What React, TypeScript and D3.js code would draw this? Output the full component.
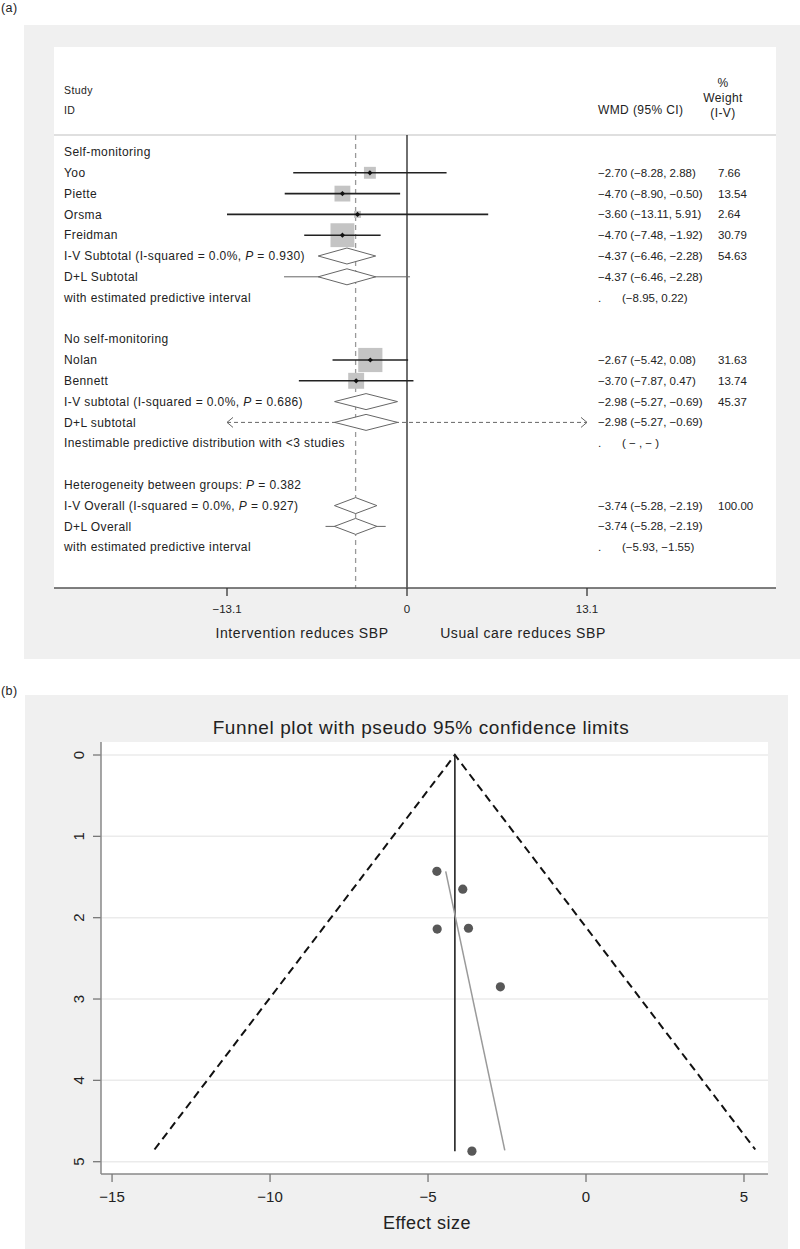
import React from "react";
import * as d3 from "d3";

// ---------- Panel (a) data ----------
const studyNames = ["Yoo", "Piette", "Orsma", "Freidman", "Nolan", "Bennett"];
const studyRows = [1, 2, 3, 4, 10, 11];
const studyES = [-2.7, -4.7, -3.6, -4.7, -2.67, -3.7];
const studyLo = [-8.28, -8.9, -13.11, -7.48, -5.42, -7.87];
const studyHi = [2.88, -0.5, 5.91, -1.92, 0.08, 0.47];
const studyWeight = [7.66, 13.54, 2.64, 30.79, 31.63, 13.74];
const studyCI = [
  "\u22122.70 (\u22128.28, 2.88)",
  "\u22124.70 (\u22128.90, \u22120.50)",
  "\u22123.60 (\u221213.11, 5.91)",
  "\u22124.70 (\u22127.48, \u22121.92)",
  "\u22122.67 (\u22125.42, 0.08)",
  "\u22123.70 (\u22127.87, 0.47)",
];
const studyWeightText = ["7.66", "13.54", "2.64", "30.79", "31.63", "13.74"];

// pooled (diamond) rows
const poolRows = [5, 6, 12, 13, 17, 18];
const poolES = [-4.37, -4.37, -2.98, -2.98, -3.74, -3.74];
const poolLo = [-6.46, -6.46, -5.27, -5.27, -5.28, -5.28];
const poolHi = [-2.28, -2.28, -0.69, -0.69, -2.19, -2.19];
const poolCI = [
  "\u22124.37 (\u22126.46, \u22122.28)",
  "\u22124.37 (\u22126.46, \u22122.28)",
  "\u22122.98 (\u22125.27, \u22120.69)",
  "\u22122.98 (\u22125.27, \u22120.69)",
  "\u22123.74 (\u22125.28, \u22122.19)",
  "\u22123.74 (\u22125.28, \u22122.19)",
];
const poolWeightText = ["54.63", "", "45.37", "", "100.00", ""];
// predictive intervals drawn around D+L diamonds (null = inestimable -> arrows)
const predRows = [6, 13, 18];
const predLo: (number | null)[] = [-8.95, null, -5.93];
const predHi: (number | null)[] = [0.22, null, -1.55];
const predTextRows = [7, 14, 19];
const predText = ["(\u22128.95, 0.22)", "( \u2212 , \u2212 )", "(\u22125.93, \u22121.55)"];

const plainLabels: [number, string][] = [
  [0, "Self-monitoring"],
  [6, "D+L Subtotal"],
  [7, "with estimated predictive interval"],
  [9, "No self-monitoring"],
  [13, "D+L subtotal"],
  [14, "Inestimable predictive distribution with <3 studies"],
  [18, "D+L Overall"],
  [19, "with estimated predictive interval"],
];
const pLabels: [number, string, string][] = [
  [5, "I-V Subtotal  (I-squared = 0.0%, ", " = 0.930)"],
  [12, "I-V subtotal  (I-squared = 0.0%, ", " = 0.686)"],
  [16, "Heterogeneity between groups: ", " = 0.382"],
  [17, "I-V Overall  (I-squared = 0.0%, ", " = 0.927)"],
];
const overallES = -3.74;
const forestTicks = [-13.1, 0, 13.1];

// ---------- Panel (b) data ----------
const funnelES = [-4.72, -3.9, -4.71, -3.72, -2.71, -3.61];
const funnelSE = [1.43, 1.65, 2.14, 2.13, 2.85, 4.87];
const funnelCenter = -4.15;
const funnelMaxSE = 4.85;
const eggerES = [-4.44, -2.57];
const eggerSE = [1.43, 4.86];
const funnelXTicks = [-15, -10, -5, 0, 5];
const funnelYTicks = [0, 1, 2, 3, 4, 5];

const FONT = "'Liberation Sans', Arial, Helvetica, sans-serif";
const TXT = "#222";
const LS = 0.4;
const NUM = 11.5;

export default function App() {
  // forest scales
  const x = d3.scaleLinear().domain([-13.1, 13.1]).range([227, 587]);
  const y = d3.scaleLinear().domain([0, 19]).range([152, 547.2]);
  const textX = 64;
  const ciX = 598;
  const wX = 718;

  // funnel scales
  const fx = d3.scaleLinear().domain([-15.35, 5.76]).range([101, 768]);
  const fy = d3.scaleLinear().domain([0, 5]).range([755, 1161.7]);

  const diamond = (es: number, lo: number, hi: number, yy: number) => {
    const p = d3.path();
    p.moveTo(x(lo), yy);
    p.lineTo(x(es), yy - 8);
    p.lineTo(x(hi), yy);
    p.lineTo(x(es), yy + 8);
    p.closePath();
    return p.toString();
  };

  const funnelLine = d3
    .line<[number, number]>()
    .x((d) => fx(d[0]))
    .y((d) => fy(d[1]));
  const funnelPts: [number, number][] = [
    [funnelCenter - 1.96 * funnelMaxSE, funnelMaxSE],
    [funnelCenter, 0],
    [funnelCenter + 1.96 * funnelMaxSE, funnelMaxSE],
  ];

  const T = (props: any) => (
    <text dy="0.35em" fontSize={12} fill={TXT} letterSpacing={LS} {...props} />
  );
  const N = (props: any) => (
    <text dy="0.35em" fontSize={NUM} fill={TXT} {...props} />
  );

  return (
    <svg
      width={800}
      height={1249}
      style={{ position: "absolute", left: 0, top: 0, background: "#fff" }}
      fontFamily={FONT}
    >
      {/* ================= Panel (a) ================= */}
      <T x={1} y={8} fontSize={12.5}>(a)</T>
      <rect x={24} y={25} width={776} height={634} fill="#f0f0f0" />
      <rect x={54} y={47} width={722} height={541} fill="#fff" />
      <line x1={54} x2={776} y1={135} y2={135} stroke="#d4d4d4" strokeWidth={1.5} />

      {/* headers */}
      <T x={textX} y={90} fontSize={10.5}>Study</T>
      <T x={textX} y={110} fontSize={10.5}>ID</T>
      <T x={ciX} y={110}>WMD (95% CI)</T>
      <T x={723} y={83} textAnchor="middle">%</T>
      <T x={723} y={98} textAnchor="middle">Weight</T>
      <T x={723} y={113} textAnchor="middle">(I-V)</T>

      {/* reference lines */}
      <line x1={x(0)} x2={x(0)} y1={135} y2={588} stroke="#222" strokeWidth={1.3} />
      <line
        x1={x(overallES)}
        x2={x(overallES)}
        y1={135}
        y2={588}
        stroke="#999"
        strokeWidth={1.3}
        strokeDasharray="5,4"
      />

      {/* labels */}
      {plainLabels.map(([r, t]) => (
        <T key={"pl" + r} x={textX} y={y(r)}>{t}</T>
      ))}
      {pLabels.map(([r, a, b]) => (
        <T key={"pp" + r} x={textX} y={y(r)}>
          {a}
          <tspan fontStyle="italic">P</tspan>
          {b}
        </T>
      ))}
      {studyNames.map((n, i) => (
        <T key={"sn" + i} x={textX} y={y(studyRows[i])}>{n}</T>
      ))}

      {/* predictive intervals */}
      {predRows.map((r, i) => {
        const lo = predLo[i];
        const hi = predHi[i];
        if (lo !== null && hi !== null) {
          return (
            <line key={"pr" + i} x1={x(lo)} x2={x(hi)} y1={y(r)} y2={y(r)} stroke="#666" strokeWidth={1} />
          );
        }
        const yy = y(r);
        const l = x.domain()[0];
        const h = x.domain()[1];
        return (
          <g key={"pr" + i} stroke="#666" strokeWidth={1} fill="none">
            <line x1={x(l)} x2={x(h)} y1={yy} y2={yy} strokeDasharray="4,3" />
            <path d={`M${x(l) + 6},${yy - 5} L${x(l)},${yy} L${x(l) + 6},${yy + 5}`} />
            <path d={`M${x(h) - 6},${yy - 5} L${x(h)},${yy} L${x(h) - 6},${yy + 5}`} />
          </g>
        );
      })}

      {/* diamonds */}
      {poolRows.map((r, i) => (
        <path
          key={"dm" + i}
          d={diamond(poolES[i], poolLo[i], poolHi[i], y(r))}
          fill="#fff"
          stroke="#666"
          strokeWidth={1}
        />
      ))}

      {/* study boxes and CIs */}
      {studyNames.map((n, i) => {
        const s = 4.3 * Math.sqrt(studyWeight[i]);
        const cx = x(studyES[i]);
        const cy = y(studyRows[i]);
        return (
          <g key={"st" + i}>
            <rect x={cx - s / 2} y={cy - s / 2} width={s} height={s} fill="#c4c4c4" />
            <line
              x1={x(Math.max(studyLo[i], -13.1))}
              x2={x(studyHi[i])}
              y1={cy}
              y2={cy}
              stroke="#222"
              strokeWidth={1.6}
            />
            <path d={`M${cx - 2.6},${cy} L${cx},${cy - 2.6} L${cx + 2.6},${cy} L${cx},${cy + 2.6} Z`} fill="#111" />
          </g>
        );
      })}

      {/* right columns */}
      {studyCI.map((t, i) => (
        <N key={"sc" + i} x={ciX} y={y(studyRows[i])}>{t}</N>
      ))}
      {studyWeightText.map((t, i) => (
        <N key={"sw" + i} x={wX} y={y(studyRows[i])}>{t}</N>
      ))}
      {poolCI.map((t, i) => (
        <N key={"pc" + i} x={ciX} y={y(poolRows[i])}>{t}</N>
      ))}
      {poolWeightText.map((t, i) => (
        <N key={"pw" + i} x={wX} y={y(poolRows[i])}>{t}</N>
      ))}
      {predTextRows.map((r, i) => (
        <g key={"pt" + i}>
          <N x={ciX} y={y(r)}>.</N>
          <N x={622} y={y(r)}>{predText[i]}</N>
        </g>
      ))}

      {/* axis */}
      <line x1={54} x2={776} y1={588} y2={588} stroke="#555" strokeWidth={1.5} />
      {forestTicks.map((t) => (
        <g key={"ft" + t}>
          <line x1={x(t)} x2={x(t)} y1={588} y2={596} stroke="#333" strokeWidth={1.3} />
          <N x={x(t)} y={609} textAnchor="middle">
            {t < 0 ? "\u2212" + Math.abs(t) : String(t)}
          </N>
        </g>
      ))}
      <T x={302} y={633} fontSize={14} letterSpacing={0.6} textAnchor="middle">Intervention reduces SBP</T>
      <T x={523} y={633} fontSize={14} letterSpacing={0.6} textAnchor="middle">Usual care reduces SBP</T>

      {/* ================= Panel (b) ================= */}
      <T x={1} y={691} fontSize={12.5}>(b)</T>
      <rect x={25} y={695} width={763} height={554} fill="#f0f0f0" />
      <rect x={101} y={742} width={667} height={432} fill="#fff" />
      <T x={421} y={727} fontSize={19} letterSpacing={0.6} textAnchor="middle">
        Funnel plot with pseudo 95% confidence limits
      </T>

      {funnelYTicks.map((t) => (
        <g key={"gy" + t}>
          <line x1={101} x2={768} y1={fy(t)} y2={fy(t)} stroke="#ebebeb" strokeWidth={1.5} />
          <line x1={93} x2={101} y1={fy(t)} y2={fy(t)} stroke="#777" strokeWidth={1.3} />
          <text
            transform={`translate(79,${fy(t)}) rotate(-90)`}
            dy="0.35em"
            fontSize={15}
            fill={TXT}
            textAnchor="middle"
          >
            {t}
          </text>
        </g>
      ))}
      <line x1={101} x2={101} y1={742} y2={1174} stroke="#888" strokeWidth={1.5} />
      <line x1={101} x2={768} y1={1174} y2={1174} stroke="#888" strokeWidth={1.5} />
      {funnelXTicks.map((t) => (
        <g key={"fx" + t}>
          <line x1={fx(t)} x2={fx(t)} y1={1174} y2={1182} stroke="#777" strokeWidth={1.3} />
          <text x={fx(t)} y={1197} dy="0.35em" fontSize={15} fill={TXT} textAnchor="middle">
            {t < 0 ? "\u2212" + Math.abs(t) : String(t)}
          </text>
        </g>
      ))}
      <T x={427} y={1223} fontSize={18} letterSpacing={0.5} textAnchor="middle">Effect size</T>

      {/* funnel */}
      <path d={funnelLine(funnelPts) || ""} fill="none" stroke="#111" strokeWidth={2} strokeDasharray="8,5" />
      <line
        x1={fx(funnelCenter)}
        x2={fx(funnelCenter)}
        y1={fy(0)}
        y2={fy(4.87)}
        stroke="#222"
        strokeWidth={1.6}
      />
      <line
        x1={fx(eggerES[0])}
        x2={fx(eggerES[1])}
        y1={fy(eggerSE[0])}
        y2={fy(eggerSE[1])}
        stroke="#9a9a9a"
        strokeWidth={1.5}
      />
      {funnelES.map((e, i) => (
        <circle key={"fp" + i} cx={fx(e)} cy={fy(funnelSE[i])} r={4.6} fill="#585858" />
      ))}
    </svg>
  );
}
